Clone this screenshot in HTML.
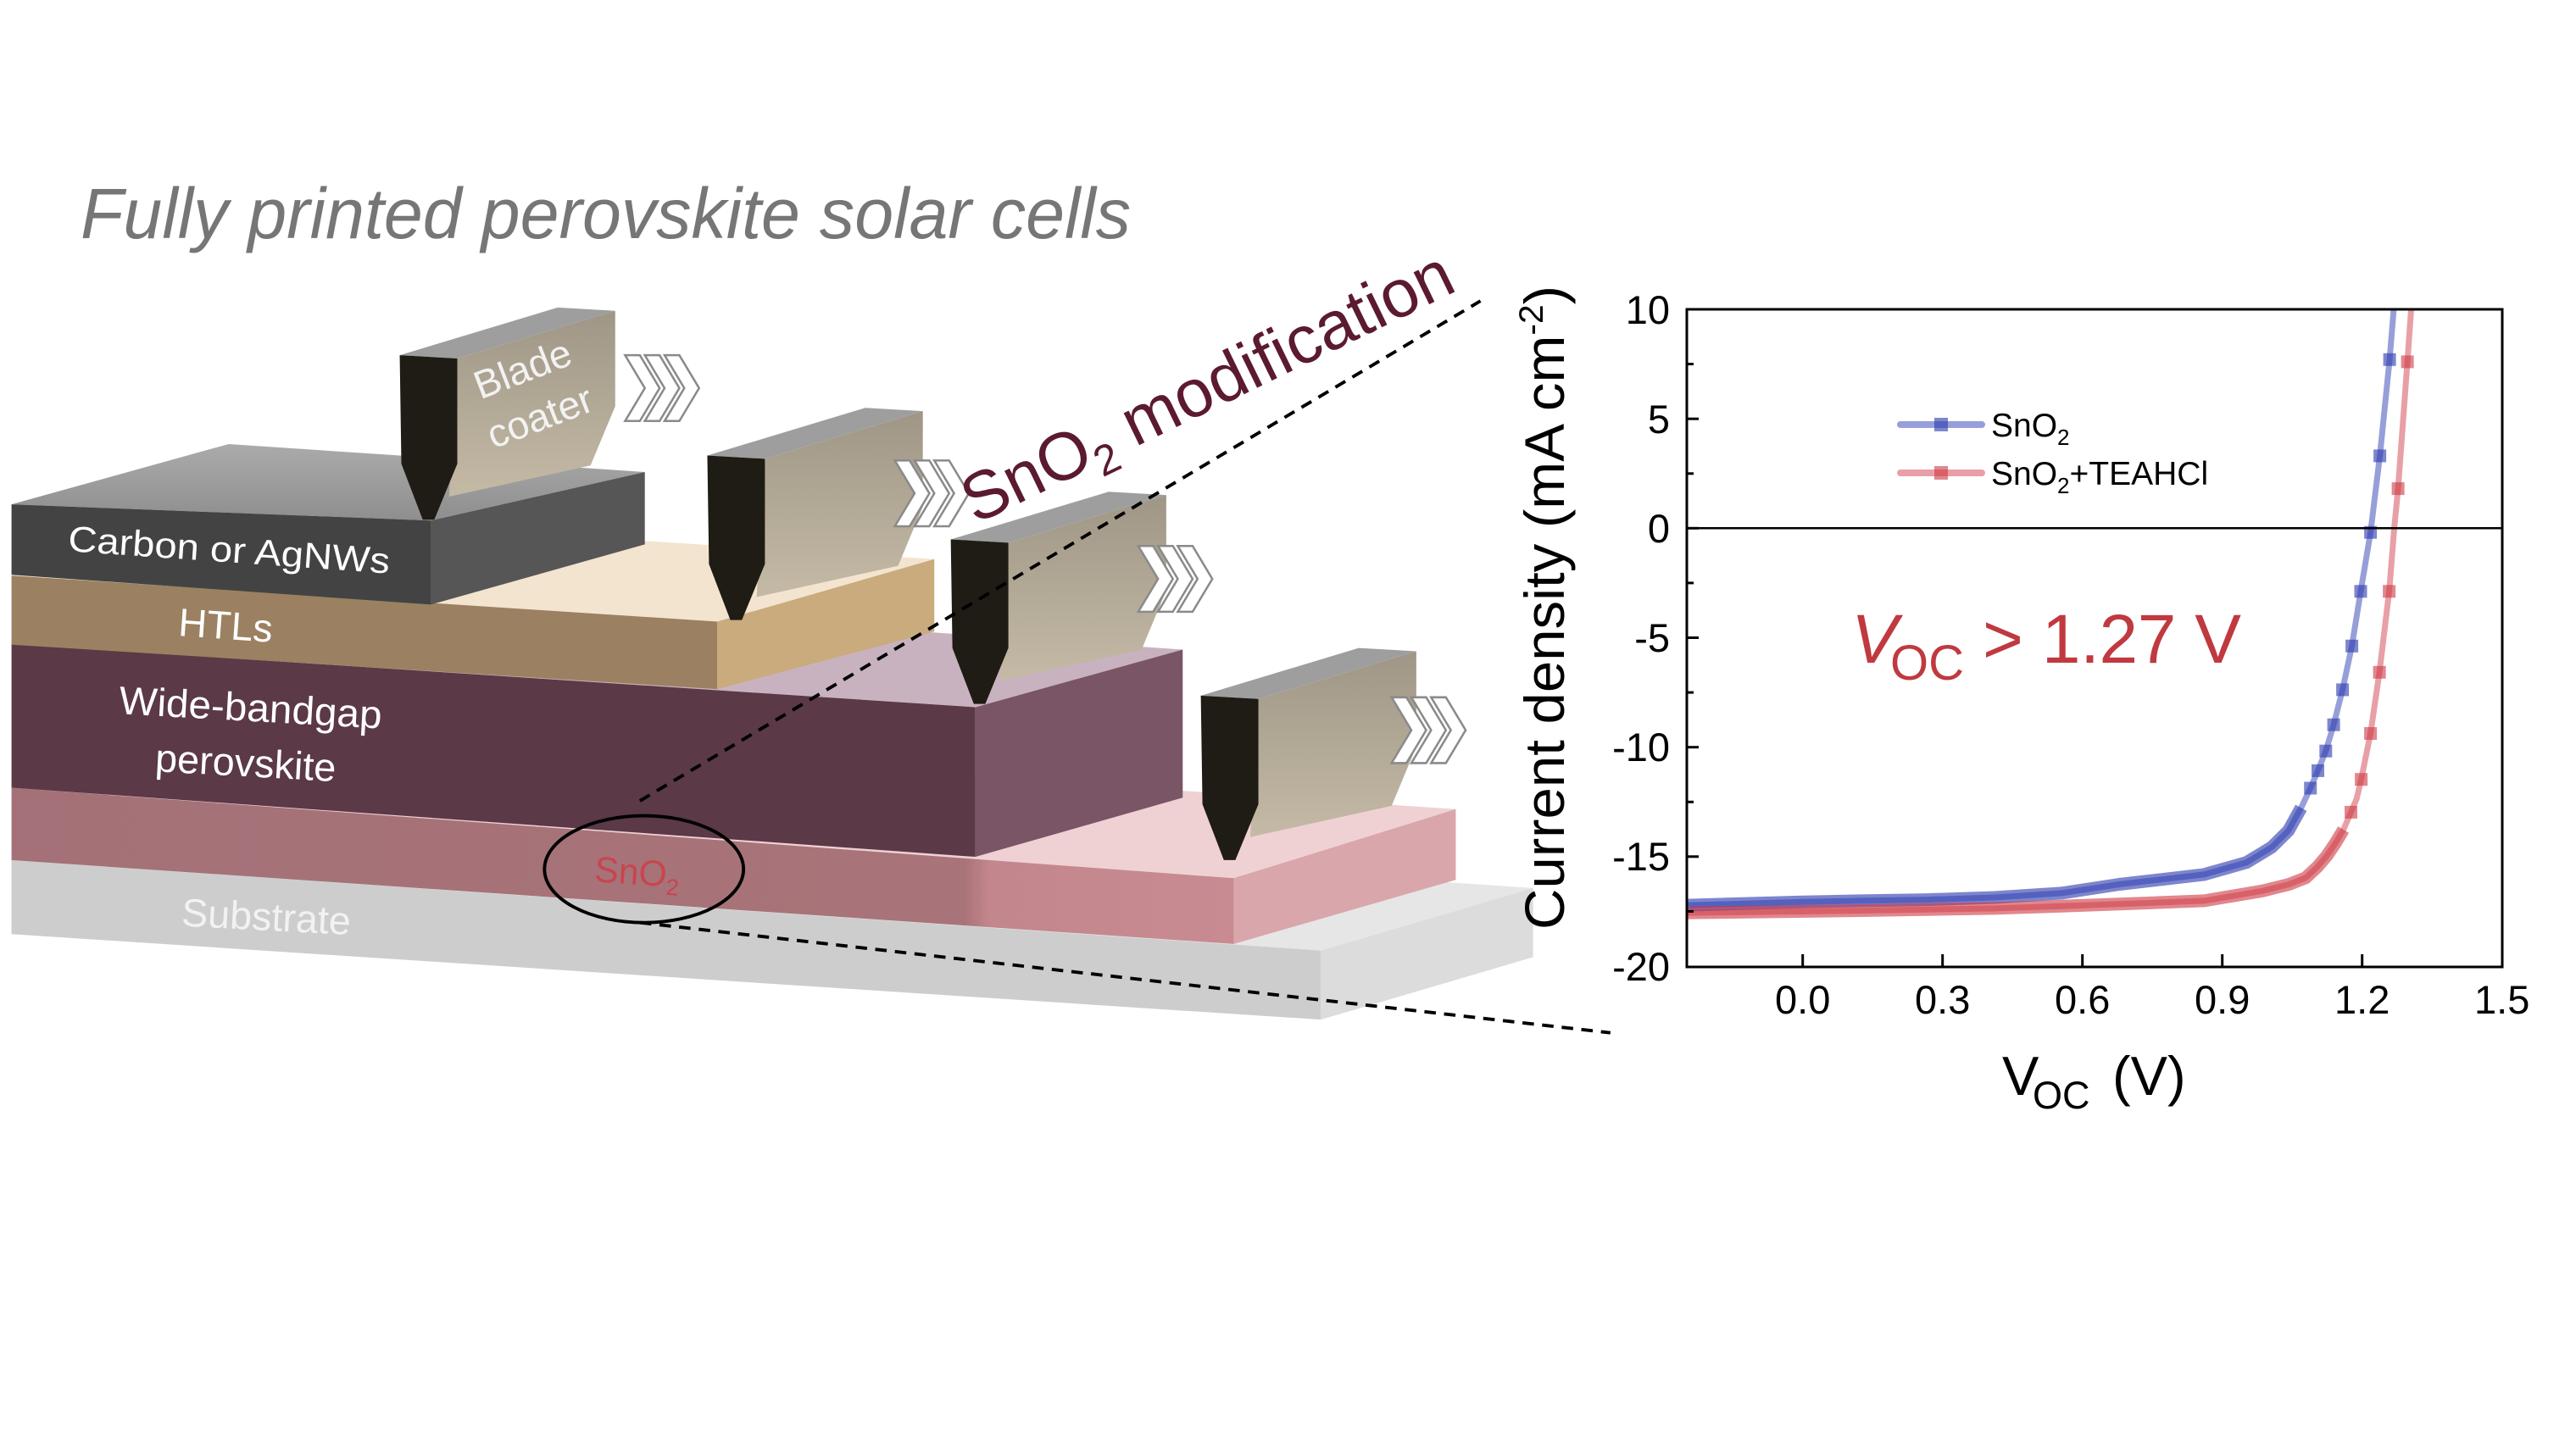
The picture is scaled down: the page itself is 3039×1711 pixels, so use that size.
<!DOCTYPE html>
<html>
<head>
<meta charset="utf-8">
<style>
html,body{margin:0;padding:0;background:#ffffff;}
body{width:3039px;height:1711px;overflow:hidden;}
svg{display:block;font-family:"Liberation Sans",Arial,sans-serif;}
</style>
</head>
<body>
<svg width="3039" height="1711" viewBox="0 0 3039 1711" xmlns="http://www.w3.org/2000/svg">
<defs>
  <linearGradient id="bodyG" x1="0" y1="0" x2="0" y2="1">
    <stop offset="0" stop-color="#9f9686"/>
    <stop offset="1" stop-color="#c4baa6"/>
  </linearGradient>
  <linearGradient id="snoF" x1="0" y1="0" x2="1" y2="0">
    <stop offset="0" stop-color="#a37177"/>
    <stop offset="0.78" stop-color="#a97479"/>
    <stop offset="0.8" stop-color="#c4868d"/>
    <stop offset="1" stop-color="#c98b92"/>
  </linearGradient>
  <linearGradient id="cTop" x1="0" y1="0" x2="0" y2="1">
    <stop offset="0" stop-color="#ababab"/>
    <stop offset="1" stop-color="#8e8e8e"/>
  </linearGradient>
  <clipPath id="plotClip"><rect x="1991" y="366" width="960" height="774"/></clipPath>
</defs>

<!-- ================= DIAGRAM (thumb coords, scaled) ================= -->
<g transform="scale(1.9406)">
  <!-- substrate -->
  <polygon points="7,523 139,486 932,540 803,578" fill="#e6e6e6"/>
  <polygon points="7,523 803,578 803,620 7,568" fill="#cdcdcd"/>
  <polygon points="803,578 932,540 932,582 803,620" fill="#dcdcdc"/>
  <!-- SnO2 -->
  <polygon points="7,479 139,442 885,492 750,534" fill="#efd1d4"/>
  <polygon points="7,479 750,534 750,574 7,523" fill="url(#snoF)"/>
  <polygon points="750,534 885,492 885,535 750,574" fill="#d9a6ab"/>
  <!-- perovskite -->
  <polygon points="7,391.5 139,355 719,395 593,430" fill="#c9b2bf"/>
  <polygon points="7,391.5 593,430 593,521 7,479" fill="#5b3947"/>
  <polygon points="593,430 719,395 719,485 593,521" fill="#7a5565"/>
  <!-- HTL -->
  <polygon points="7,350 139,313 568,340 436,378" fill="#f3e4d0"/>
  <polygon points="7,350 436,378 436,419 7,392" fill="#9b8161"/>
  <polygon points="436,378 568,340 568,384 436,419" fill="#c9ab7d"/>
  <!-- carbon -->
  <polygon points="7,306.7 139,270 392,287 262,316.5" fill="url(#cTop)"/>
  <polygon points="7,306.7 262,316.5 262,367.6 7,349.5" fill="#434343"/>
  <polygon points="262,316.5 392,287 392,331 262,367.6" fill="#565656"/>

  <!-- blades -->
  <g transform="translate(243,216)">
    <polygon points="0,0 96,-29 131,-27 35,2" fill="#9e9e9e"/>
    <polygon points="35,2 131,-27 131,31 116,67 30,86" fill="url(#bodyG)"/>
    <polygon points="0,0 35,2 35,66 21,100 14,100 1,66" fill="#1f1b15"/>
  </g>
  <g transform="translate(430,277)">
    <polygon points="0,0 96,-29 131,-27 35,2" fill="#9e9e9e"/>
    <polygon points="35,2 131,-27 131,31 116,67 30,86" fill="url(#bodyG)"/>
    <polygon points="0,0 35,2 35,66 21,100 14,100 1,66" fill="#1f1b15"/>
  </g>
  <g transform="translate(578,328)">
    <polygon points="0,0 96,-29 131,-27 35,2" fill="#9e9e9e"/>
    <polygon points="35,2 131,-27 131,31 116,67 30,86" fill="url(#bodyG)"/>
    <polygon points="0,0 35,2 35,66 21,100 14,100 1,66" fill="#1f1b15"/>
  </g>
  <g transform="translate(730,423)">
    <polygon points="0,0 96,-29 131,-27 35,2" fill="#9e9e9e"/>
    <polygon points="35,2 131,-27 131,31 116,67 30,86" fill="url(#bodyG)"/>
    <polygon points="0,0 35,2 35,66 21,100 14,100 1,66" fill="#1f1b15"/>
  </g>

  <!-- chevrons -->
  <g fill="#ffffff" stroke="#8a8a8a" stroke-width="1.3">
    <g transform="translate(380,216)">
      <polygon points="0,0 9,0 21,20 9,40 0,40 12,20"/>
      <polygon points="12,0 21,0 33,20 21,40 12,40 24,20"/>
      <polygon points="24,0 33,0 45,20 33,40 24,40 36,20"/>
    </g>
    <g transform="translate(544,280)">
      <polygon points="0,0 9,0 21,20 9,40 0,40 12,20"/>
      <polygon points="12,0 21,0 33,20 21,40 12,40 24,20"/>
      <polygon points="24,0 33,0 45,20 33,40 24,40 36,20"/>
    </g>
    <g transform="translate(692,332)">
      <polygon points="0,0 9,0 21,20 9,40 0,40 12,20"/>
      <polygon points="12,0 21,0 33,20 21,40 12,40 24,20"/>
      <polygon points="24,0 33,0 45,20 33,40 24,40 36,20"/>
    </g>
    <g transform="translate(846,424)">
      <polygon points="0,0 9,0 21,20 9,40 0,40 12,20"/>
      <polygon points="12,0 21,0 33,20 21,40 12,40 24,20"/>
      <polygon points="24,0 33,0 45,20 33,40 24,40 36,20"/>
    </g>
  </g>

  <!-- layer labels -->
  <text x="41" y="335" font-size="22" fill="#ffffff" transform="rotate(4 41 335)" textLength="196" lengthAdjust="spacingAndGlyphs">Carbon or AgNWs</text>
  <text x="108" y="386.5" font-size="24" fill="#ffffff" transform="rotate(4 108 386.5)">HTLs</text>
  <text x="72" y="434" font-size="24" fill="#ffffff" transform="rotate(3.2 72 434)" textLength="160" lengthAdjust="spacingAndGlyphs">Wide-bandgap</text>
  <text x="94" y="469" font-size="24" fill="#ffffff" transform="rotate(3.2 94 469)" textLength="110" lengthAdjust="spacingAndGlyphs">perovskite</text>
  <text x="110" y="563" font-size="24" fill="#f2f2f2" transform="rotate(3 110 563)" textLength="103" lengthAdjust="spacingAndGlyphs">Substrate</text>
  <text x="361" y="536" font-size="22" fill="#c84550" transform="rotate(4 361 536)">SnO<tspan font-size="14" dy="5">2</tspan></text>
  <text x="292" y="243" font-size="24" fill="#f2f2f2" transform="rotate(-21 292 243)">Blade</text>
  <text x="300" y="273" font-size="24" fill="#f2f2f2" transform="rotate(-21 300 273)">coater</text>

  <!-- dashed lines and ellipse -->
  <line x1="389" y1="487" x2="900" y2="183" stroke="#000" stroke-width="2" stroke-dasharray="7,5"/>
  <line x1="389" y1="561" x2="979" y2="628" stroke="#000" stroke-width="2" stroke-dasharray="7,5"/>
  <ellipse cx="391.5" cy="528.5" rx="60.5" ry="32.5" fill="none" stroke="#000" stroke-width="2"/>

  <text x="593" y="319" font-size="41" fill="#5b1a32" transform="rotate(-25.9 593 319)">SnO<tspan font-size="26" dy="8">2</tspan><tspan dy="-8"> modification</tspan></text>
</g>

<!-- title -->
<text x="95" y="281" font-size="84" font-style="italic" fill="#767676" textLength="1239" lengthAdjust="spacingAndGlyphs">Fully printed perovskite solar cells</text>

<!-- ================= CHART ================= -->
<g clip-path="url(#plotClip)">
  <!-- blue line -->
  <polyline fill="none" stroke="#969fd9" stroke-width="7" stroke-linejoin="round"
    points="1985,1068.3 2126.7,1064.2 2195.5,1062.9 2274.1,1061.6 2353.3,1059 2432,1053.9 2500.2,1043.5 2600.3,1031.9 2650.3,1017.7 2680,999.7 2699.8,980.1 2714.7,953.2 2725.7,930 2734.5,909.4 2743.8,886.2 2753.1,855.2 2763.6,813.9 2774.6,762.3 2785,697.8 2796.6,628.2 2807.6,537.9 2819.1,424.3 2826,340"/>
  <!-- red line -->
  <polyline fill="none" stroke="#e8a0a6" stroke-width="7" stroke-linejoin="round"
    points="1985,1077.2 2195.5,1074.5 2353.3,1071.9 2432,1069.3 2500.2,1066.8 2600.3,1062.9 2669,1051.3 2700.4,1043.5 2720.1,1035.8 2733.9,1022.9 2744.9,1010 2755.4,994.5 2764.7,979 2773.5,958.4 2780.1,942.9 2785.6,919.7 2796.6,865.5 2807.1,793.3 2818.6,697.8 2824.6,623 2829.1,576.6 2840.1,426.9 2847,330"/>
  <!-- blue band -->
  <polyline fill="none" stroke="rgb(45,60,175)" stroke-opacity="0.62" stroke-width="15" stroke-linejoin="round"
    points="1983,1068.3 2126.7,1064.2 2195.5,1062.9 2274.1,1061.6 2353.3,1059 2432,1053.9 2500.2,1043.5 2600.3,1031.9 2650.3,1017.7 2680,999.7 2699.8,980.1 2714.7,953.2"/>
  <!-- red band -->
  <polyline fill="none" stroke="rgb(205,55,65)" stroke-opacity="0.6" stroke-width="15" stroke-linejoin="round"
    points="1983,1077.2 2195.5,1074.5 2353.3,1071.9 2432,1069.3 2500.2,1066.8 2600.3,1062.9 2669,1051.3 2700.4,1043.5 2720.1,1035.8 2733.9,1022.9 2744.9,1010 2755.4,994.5 2764.7,979"/>
  <!-- blue markers -->
  <g fill="rgb(45,60,175)" fill-opacity="0.62">
    <rect x="2718.2" y="922.5" width="15" height="15"/>
    <rect x="2727" y="901.9" width="15" height="15"/>
    <rect x="2736.3" y="878.7" width="15" height="15"/>
    <rect x="2745.6" y="847.7" width="15" height="15"/>
    <rect x="2756.1" y="806.4" width="15" height="15"/>
    <rect x="2767.1" y="754.8" width="15" height="15"/>
    <rect x="2777.5" y="690.3" width="15" height="15"/>
    <rect x="2789.1" y="620.7" width="15" height="15"/>
    <rect x="2800.1" y="530.4" width="15" height="15"/>
    <rect x="2811.6" y="416.8" width="15" height="15"/>
  </g>
  <!-- red markers -->
  <g fill="rgb(205,55,65)" fill-opacity="0.6">
    <rect x="2766" y="950.9" width="15" height="15"/>
    <rect x="2778.1" y="912.2" width="15" height="15"/>
    <rect x="2789.1" y="858" width="15" height="15"/>
    <rect x="2799.6" y="785.8" width="15" height="15"/>
    <rect x="2811.1" y="690.3" width="15" height="15"/>
    <rect x="2821.6" y="569.1" width="15" height="15"/>
    <rect x="2832.6" y="419.4" width="15" height="15"/>
  </g>
</g>

<!-- zero line -->
<line x1="1990" y1="623.3" x2="2952" y2="623.3" stroke="#000" stroke-width="2.5"/>
<!-- axes box -->
<rect x="1990" y="365" width="962" height="776" fill="none" stroke="#000" stroke-width="3"/>

<!-- y ticks -->
<g stroke="#000" stroke-width="3">
  <line x1="1990" y1="365" x2="2004" y2="365"/>
  <line x1="1990" y1="494.2" x2="2004" y2="494.2"/>
  <line x1="1990" y1="623.3" x2="2004" y2="623.3"/>
  <line x1="1990" y1="752.5" x2="2004" y2="752.5"/>
  <line x1="1990" y1="881.7" x2="2004" y2="881.7"/>
  <line x1="1990" y1="1010.8" x2="2004" y2="1010.8"/>
  <line x1="1990" y1="429.6" x2="1998" y2="429.6"/>
  <line x1="1990" y1="558.8" x2="1998" y2="558.8"/>
  <line x1="1990" y1="687.9" x2="1998" y2="687.9"/>
  <line x1="1990" y1="817.1" x2="1998" y2="817.1"/>
  <line x1="1990" y1="946.3" x2="1998" y2="946.3"/>
  <line x1="1990" y1="1075.4" x2="1998" y2="1075.4"/>
</g>
<!-- x ticks -->
<g stroke="#000" stroke-width="3">
  <line x1="2126.7" y1="1141" x2="2126.7" y2="1126"/>
  <line x1="2291.7" y1="1141" x2="2291.7" y2="1126"/>
  <line x1="2456.7" y1="1141" x2="2456.7" y2="1126"/>
  <line x1="2621.7" y1="1141" x2="2621.7" y2="1126"/>
  <line x1="2786.7" y1="1141" x2="2786.7" y2="1126"/>
</g>

<!-- y tick labels -->
<g font-size="47" fill="#000" text-anchor="end">
  <text x="1970" y="382">10</text>
  <text x="1970" y="511">5</text>
  <text x="1970" y="640">0</text>
  <text x="1970" y="769">-5</text>
  <text x="1970" y="898">-10</text>
  <text x="1970" y="1027">-15</text>
  <text x="1970" y="1157">-20</text>
</g>
<!-- x tick labels -->
<g font-size="47" fill="#000" text-anchor="middle">
  <text x="2126.7" y="1196">0.0</text>
  <text x="2291.7" y="1196">0.3</text>
  <text x="2456.7" y="1196">0.6</text>
  <text x="2621.7" y="1196">0.9</text>
  <text x="2786.7" y="1196">1.2</text>
  <text x="2951.7" y="1196">1.5</text>
</g>

<!-- axis titles -->
<text x="2362" y="1292" font-size="65" fill="#000">V</text>
<text x="2398" y="1308" font-size="45" fill="#000">OC</text>
<text x="2492" y="1292" font-size="65" fill="#000">(V)</text>

<text transform="translate(1845,1097) rotate(-90)" x="0" y="0" font-size="66" fill="#000" textLength="760" lengthAdjust="spacingAndGlyphs">Current density (mA cm<tspan font-size="40" dy="-25">-2</tspan><tspan font-size="66" dy="25">)</tspan></text>

<!-- legend -->
<line x1="2242" y1="501" x2="2338" y2="501" stroke="#969fd9" stroke-width="8" stroke-linecap="round"/>
<rect x="2282" y="493" width="16" height="16" fill="rgb(45,60,175)" fill-opacity="0.62"/>
<text x="2349" y="515" font-size="39" fill="#000">SnO<tspan font-size="26" dy="10">2</tspan></text>
<line x1="2242" y1="558" x2="2338" y2="558" stroke="#e8a0a6" stroke-width="8" stroke-linecap="round"/>
<rect x="2282" y="550" width="16" height="16" fill="rgb(205,55,65)" fill-opacity="0.6"/>
<text x="2349" y="572" font-size="39" fill="#000">SnO<tspan font-size="26" dy="10">2</tspan><tspan dy="-10">+TEAHCl</tspan></text>

<!-- Voc annotation -->
<text x="2184" y="782" font-size="82" font-style="italic" fill="#c0393f">V</text>
<text x="2230" y="802" font-size="58" fill="#c0393f">OC</text>
<text x="2339" y="782" font-size="82" fill="#c0393f" textLength="305" lengthAdjust="spacing">&gt; 1.27 V</text>
</svg>
</body>
</html>
